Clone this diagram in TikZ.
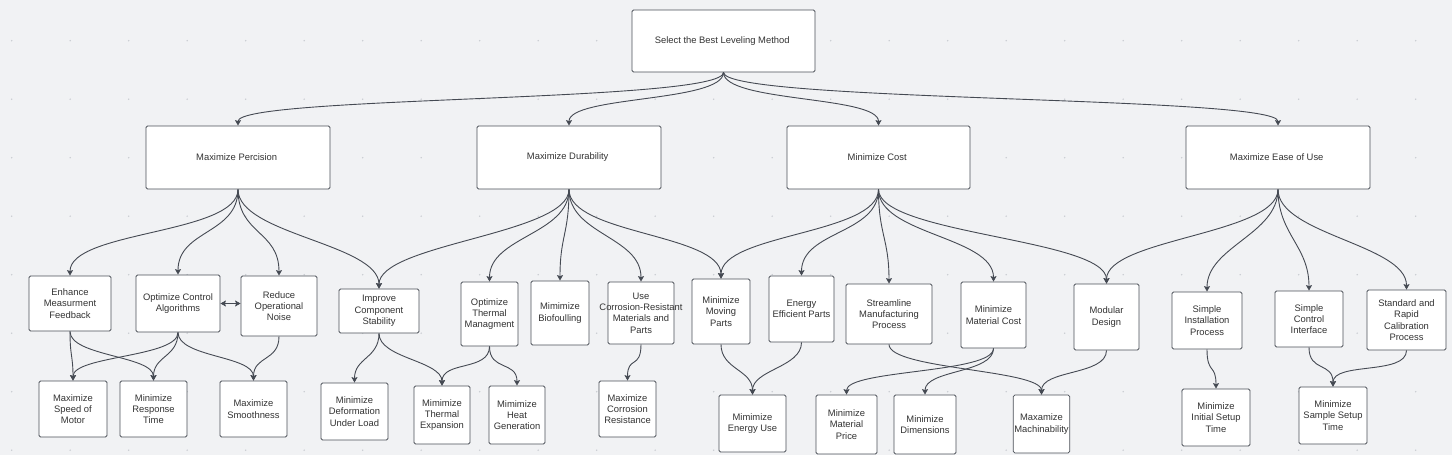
\documentclass[tikz,border=0pt]{standalone}
\usepackage{fontspec}
\setmainfont{Liberation Sans}
\usetikzlibrary{arrows.meta}
\definecolor{paper}{HTML}{F1F2F4}
\definecolor{dotgray}{HTML}{C9CCD1}
\definecolor{boxline}{HTML}{4B5058}
\definecolor{linkgray}{HTML}{454A53}
\definecolor{textgray}{HTML}{333333}
\begin{document}
\begin{tikzpicture}[x=1pt, y=-1pt,
	box/.style = { draw=boxline, fill=white, rounded corners=1.5pt, line width=0.8pt, align=center, inner sep=1pt, text=textgray, font=\fontsize{9.4}{11.3}\selectfont },
	link/.style = { draw=linkgray, line width=0.9pt, -{Stealth[length=5.5pt,width=6pt,inset=1pt]}, out=-90, in=90 },
	top/.style = { link, distance=30pt },
	mid/.style = { link, distance=45pt },
	low/.style = { link, distance=25pt }]
	\fill[paper] (0,0) rectangle (1452,455);
	\useasboundingbox (0,0) rectangle (1452,455);
	\foreach \i in {0,...,24}
		\foreach \j in {0,...,7}
			\fill[dotgray] (11.7+58.5*\i, 40.7+58.5*\j) circle (0.8pt);
	% goal
	\node [box, minimum width=183, minimum height=62] (root) at (723.5,41) { Select the Best Leveling Method };
	% criteria
	\node [box, minimum width=184, minimum height=63] (perc) at (238,157.5) { Maximize Percision };
	\node [box, minimum width=184, minimum height=63] (dura) at (569,157.5) { Maximize Durability };
	\node [box, minimum width=183, minimum height=63] (cost) at (878.5,157.5) { Minimize Cost };
	\node [box, minimum width=184, minimum height=63] (ease) at (1278,157.5) { Maximize Ease of Use };
	% means
	\node [box, minimum width=82, minimum height=55] (enh) at (70,303.5) { Enhance\\Measurment\\Feedback };
	\node [box, minimum width=84, minimum height=57] (ctrl) at (178,303.5) { Optimize Control\\Algorithms };
	\node [box, minimum width=76, minimum height=60] (noise) at (279,306) { Reduce\\Operational\\Noise };
	\node [box, minimum width=80, minimum height=44] (stab) at (379,311) { Improve\\Component\\Stability };
	\node [box, minimum width=57, minimum height=64] (therm) at (489.5,314) { Optimize\\Thermal\\Managment };
	\node [box, minimum width=58, minimum height=64] (bio) at (560,313) { Mimimize\\Biofoulling };
	\node [box, minimum width=66, minimum height=62] (corr) at (641,313) { Use\\\makebox[0pt]{Corrosion-Resistant}\\Materials and\\Parts };
	\node [box, minimum width=58, minimum height=65] (moving) at (721,311.5) { Minimize\\Moving\\Parts };
	\node [box, minimum width=65, minimum height=66] (energy) at (801.5,309) { Energy\\Efficient Parts };
	\node [box, minimum width=86, minimum height=60] (stream) at (889,314) { Streamline\\Manufacturing\\Process };
	\node [box, minimum width=65, minimum height=66] (matcost) at (993.5,315) { Minimize\\Material Cost };
	\node [box, minimum width=65, minimum height=66] (modular) at (1106.5,317) { Modular\\Design };
	\node [box, minimum width=70, minimum height=57] (install) at (1207,320.5) { Simple\\Installation\\Process };
	\node [box, minimum width=68, minimum height=56] (ctrlif) at (1309,319) { Simple\\Control\\Interface };
	\node [box, minimum width=79, minimum height=60] (calib) at (1406.5,320) { Standard and\\Rapid\\Calibration\\Process };
	% sub-goals
	\node [box, minimum width=68, minimum height=56] (speed) at (73,409) { Maximize\\Speed of\\Motor };
	\node [box, minimum width=67, minimum height=56] (resp) at (153.5,409) { Minimize\\Response\\Time };
	\node [box, minimum width=67, minimum height=56] (smooth) at (253.5,409) { Maximize\\Smoothness };
	\node [box, minimum width=67, minimum height=57] (deform) at (354.5,411.5) { Minimize\\Deformation\\Under Load };
	\node [box, minimum width=56, minimum height=58] (expan) at (442,415) { Mimimize\\Thermal\\Expansion };
	\node [box, minimum width=56, minimum height=58] (heat) at (517,415) { Mimimize\\Heat\\Generation };
	\node [box, minimum width=57, minimum height=56] (corres) at (627.5,409) { Maximize\\Corrosion\\Resistance };
	\node [box, minimum width=67, minimum height=57] (enuse) at (752.5,423.5) { Mimimize\\Energy Use };
	\node [box, minimum width=61, minimum height=59] (price) at (846.5,424.5) { Minimize\\Material\\Price };
	\node [box, minimum width=62, minimum height=59] (dims) at (925,424.5) { Minimize\\Dimensions };
	\node [box, minimum width=55, minimum height=58] (mach) at (1041.5,424) { Maxamize\\Machinability };
	\node [box, minimum width=68, minimum height=57] (initial) at (1216,417.5) { Minimize\\Initial Setup\\Time };
	\node [box, minimum width=68, minimum height=57] (sample) at (1333,415.5) { Minimize\\Sample Setup\\Time };
	% goal to criteria
	\draw [top] (root) to (perc);
	\draw [top] (root) to (dura);
	\draw [top] (root) to (cost);
	\draw [top] (root) to (ease);
	% criteria to means
	\draw [mid] (perc) to (enh);
	\draw [mid] (perc) to (ctrl);
	\draw [mid] (perc) to (noise);
	\draw [mid] (perc) to (stab);
	\draw [mid] (dura) to (stab);
	\draw [mid] (dura) to (therm);
	\draw [mid] (dura) to (bio);
	\draw [mid] (dura) to (corr);
	\draw [mid] (dura) to (moving);
	\draw [mid] (cost) to (moving);
	\draw [mid] (cost) to (energy);
	\draw [mid] (cost) to (stream);
	\draw [mid] (cost) to (matcost);
	\draw [mid] (cost) to (modular);
	\draw [mid] (ease) to (modular);
	\draw [mid] (ease) to (install);
	\draw [mid] (ease) to (ctrlif);
	\draw [mid] (ease) to (calib);
	% means to sub-goals
	\draw [low] (enh) to (speed);
	\draw [low] (enh) to (resp);
	\draw [low] (ctrl) to (speed);
	\draw [low] (ctrl) to (resp);
	\draw [low] (ctrl) to (smooth);
	\draw [low] (noise) to (smooth);
	\draw [low] (stab) to (deform);
	\draw [low] (stab) to (expan);
	\draw [low] (therm) to (expan);
	\draw [low] (therm) to (heat);
	\draw [low] (corr) to (corres);
	\draw [low] (moving) to (enuse);
	\draw [low] (energy) to (enuse);
	\draw [low] (stream) to (mach);
	\draw [low] (matcost) to (price);
	\draw [low] (matcost) to (dims);
	\draw [low] (modular) to (mach);
	\draw [low] (install) to (initial);
	\draw [low] (ctrlif) to (sample);
	\draw [low] (calib) to (sample);
	\draw [draw=linkgray, line width=0.9pt, {Stealth[length=5.5pt,width=6pt,inset=1pt]}-{Stealth[length=5.5pt,width=6pt,inset=1pt]}] (ctrl.east) -- (ctrl.east -| noise.west);
\end{tikzpicture}
\end{document}
